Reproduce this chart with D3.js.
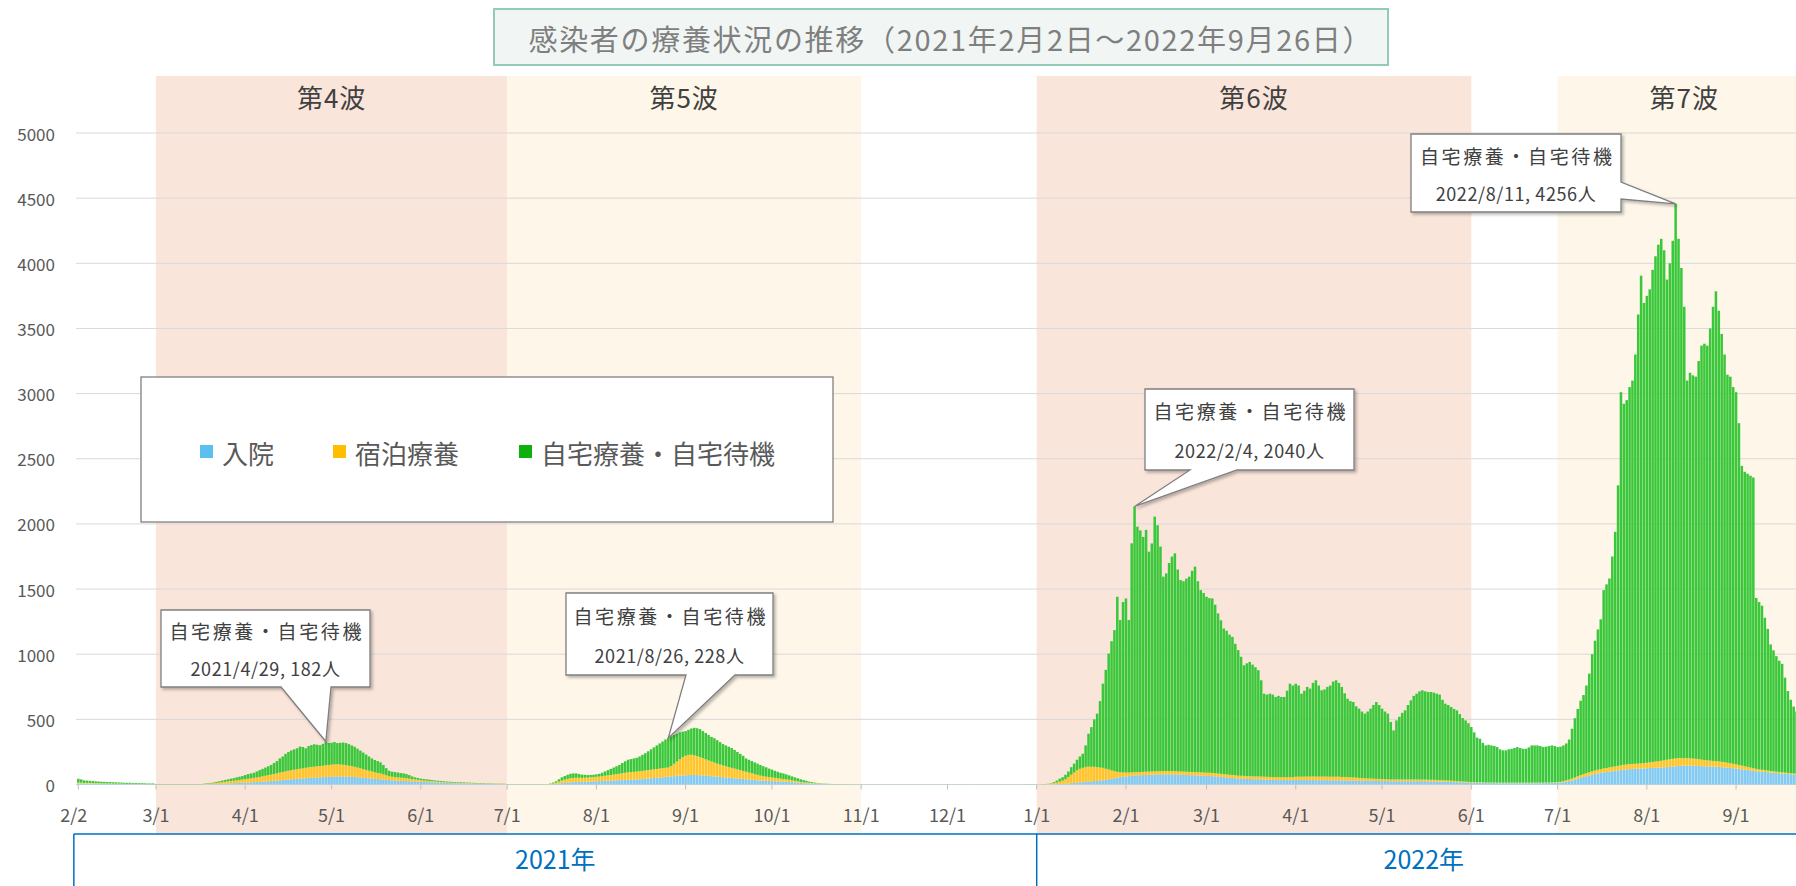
<!DOCTYPE html>
<html><head><meta charset="utf-8">
<script src="https://cdn.jsdelivr.net/npm/d3@7"></script>
<style>
body{margin:0;background:#fff;overflow:hidden;}
svg{display:block;}
text{font-family:"Noto Sans CJK JP","Noto Sans",sans-serif;}
</style>
</head><body>
<svg id="chart" width="1796" height="886"></svg>
<script>
// ---------------- DATA ----------------
const startDate = "2021-02-02";
const endDate = "2022-09-26";
const seriesNames = ["入院", "宿泊療養", "自宅療養・自宅待機"];

// 入院 (daily, 2021-02-02 .. 2022-09-26), one row per month
const hospital = [
  8,8,7,7,7,6,6,6,5,5,5,5,4,4,4,4,3,3,3,3,3,3,2,2,2,2,2,
  1,1,1,1,1,1,1,1,1,1,1,1,1,1,1,1,1,2,2,3,3,4,5,6,7,8,9,10,11,12,13,
  14,15,16,18,19,20,22,23,25,26,28,30,32,34,36,38,40,42,43,45,46,48,50,51,52,54,55,56,58,59,
  60,61,62,62,62,61,60,59,58,56,54,52,50,48,46,44,42,40,38,36,34,32,30,29,28,27,26,25,24,23,22,
  21,20,19,18,17,16,15,14,13,12,11,10,10,9,9,8,8,7,7,6,6,5,5,5,4,4,4,3,3,3,
  1,1,1,1,1,1,1,1,1,1,1,1,1,1,1,2,3,5,8,11,13,15,17,18,19,20,20,21,22,23,24,
  25,26,27,28,29,30,31,32,33,34,35,36,37,38,39,40,42,44,46,48,50,52,54,56,58,60,62,64,66,68,70,
  71,72,73,73,72,71,70,68,66,64,62,60,58,56,54,52,50,48,46,44,42,40,38,36,34,32,30,29,28,27,
  26,25,24,23,22,21,20,18,16,14,12,10,9,8,7,6,5,4,3,3,2,2,2,1,1,1,1,1,1,1,1,
  0,0,0,0,0,0,0,0,0,0,0,0,0,0,0,0,0,0,0,0,0,0,0,0,0,0,0,0,0,0,
  0,0,0,0,0,0,0,0,0,0,0,0,0,0,0,0,0,0,0,0,0,0,0,0,0,0,0,0,1,1,1,
  1,1,1,1,1,2,2,3,4,5,6,8,10,12,14,16,18,20,22,24,26,28,30,33,36,40,44,48,52,56,60,
  62,64,66,68,70,71,72,73,74,75,76,77,78,78,78,78,78,77,76,75,74,73,72,71,70,69,68,67,
  66,65,64,62,60,58,56,54,52,50,48,46,45,44,43,42,41,40,40,39,38,37,36,35,34,34,34,34,34,34,34,
  34,34,34,34,34,34,34,33,33,33,33,33,32,32,32,32,31,31,31,30,30,30,29,29,29,28,28,28,27,27,
  26,26,26,25,25,25,25,25,25,25,25,25,25,25,25,25,24,24,24,23,23,22,22,21,20,19,18,17,16,15,14,
  13,13,12,12,12,11,11,11,11,10,10,10,10,10,10,10,10,10,10,10,10,10,10,10,10,11,11,11,12,12,
  13,15,18,22,26,32,38,45,52,58,64,70,75,80,85,90,93,96,99,102,105,108,111,114,116,118,120,121,122,123,124,
  125,126,127,128,129,130,132,134,136,138,140,142,143,144,145,145,144,143,142,141,140,139,138,137,136,135,133,131,129,127,125,
  123,120,117,114,111,108,105,102,100,98,96,94,92,90,88,86,84,82,80,78,76,74,72,70,68,66
];

// 宿泊療養
const hotel = [
  6,6,5,5,5,5,4,4,4,4,3,3,3,3,3,2,2,2,2,2,2,2,2,1,1,1,1,
  1,1,1,1,1,1,1,1,1,1,1,1,1,1,1,1,1,3,4,5,6,8,10,12,14,16,18,19,21,23,25,
  27,29,31,33,35,38,41,44,47,50,53,56,59,62,65,68,70,72,74,76,78,80,82,84,85,86,87,88,90,91,
  92,93,93,92,90,88,85,82,78,74,70,66,62,58,54,50,47,44,40,35,30,28,27,26,25,24,22,20,18,16,14,
  12,11,10,9,8,7,6,6,5,5,4,4,4,4,3,3,3,3,3,2,2,2,2,2,2,2,2,2,2,1,
  1,1,1,1,1,1,1,1,1,1,1,1,1,1,1,3,5,9,14,20,24,28,31,32,33,32,31,31,31,32,33,
  34,35,37,39,41,43,45,47,49,52,55,57,58,59,60,61,62,63,64,65,66,67,68,69,70,70,80,95,110,125,140,
  150,155,155,150,145,140,132,125,118,112,106,100,95,90,86,82,78,74,70,66,62,58,54,50,46,42,38,35,32,30,
  28,26,24,22,20,18,16,14,12,10,8,7,6,5,4,3,3,2,2,1,1,1,1,1,1,1,0,0,0,0,0,
  0,0,0,0,0,0,0,0,0,0,0,0,0,0,0,0,0,0,0,0,0,0,0,0,0,0,0,0,0,0,
  0,0,0,0,0,0,0,0,0,0,0,0,0,0,0,0,0,0,0,0,0,0,0,0,0,0,0,0,0,0,0,
  1,1,1,2,3,5,8,12,18,25,35,50,65,80,95,105,110,115,115,112,110,105,100,95,85,75,65,55,45,38,32,
  30,28,27,26,25,25,25,25,25,25,25,25,25,25,25,25,25,25,25,25,25,25,25,25,25,25,25,25,
  25,25,25,25,24,24,24,24,23,23,23,22,22,22,22,22,22,22,22,22,22,22,22,22,22,22,22,22,22,22,22,
  26,26,26,27,27,27,28,28,28,28,28,28,28,28,28,28,27,27,26,25,24,23,22,21,20,19,18,17,16,16,
  15,15,14,14,14,14,14,14,14,14,14,14,14,13,13,13,13,12,12,12,11,11,10,10,9,9,8,8,7,7,6,
  6,5,5,5,5,4,4,4,4,4,4,4,4,4,4,4,4,4,4,4,4,4,4,4,4,4,4,4,4,5,
  5,6,8,10,12,14,16,18,20,22,24,25,26,27,28,29,30,31,32,33,34,35,36,37,38,38,38,38,38,39,40,
  42,44,46,48,50,52,54,56,58,59,60,60,59,58,57,56,55,54,52,50,48,46,45,44,43,42,41,40,38,36,34,
  32,30,28,26,24,22,20,18,16,15,14,13,12,11,10,10,9,9,9,8,8,8,7,7,7,7
];

// 自宅療養・自宅待機
const home = [
  30,25,20,18,16,15,14,13,12,12,11,11,10,10,9,9,8,8,8,7,7,6,6,6,5,5,5,
  2,2,2,2,2,2,2,2,2,2,2,2,2,2,2,2,2,3,4,4,6,8,10,12,14,16,18,19,23,25,27,
  32,36,38,39,46,52,57,63,68,74,84,94,109,119,134,144,152,156,161,170,164,150,163,168,172,165,160,168,182,168,
  168,172,163,166,170,169,165,159,154,145,136,127,118,109,100,94,91,86,72,54,41,38,38,37,35,34,32,27,20,16,14,
  12,11,11,10,9,8,8,7,7,6,6,6,5,5,5,5,4,4,3,4,3,3,3,2,3,2,2,2,2,2,
  1,1,1,1,1,1,1,1,1,1,1,1,1,1,1,3,7,11,18,24,28,32,34,35,33,28,25,22,19,18,18,
  19,21,26,33,40,47,54,61,68,79,88,97,100,103,106,114,124,133,145,157,169,181,193,205,217,228,228,221,214,207,195,
  189,193,202,212,215,214,208,202,196,189,187,180,172,164,160,156,152,143,134,125,116,102,98,94,90,86,82,76,72,65,
  61,54,50,45,43,39,34,30,27,24,20,17,13,9,7,5,3,3,2,2,2,1,1,1,1,1,1,1,1,1,1,
  1,1,1,1,1,1,1,1,1,1,1,1,1,1,1,1,1,1,1,1,1,1,1,1,1,1,1,1,1,1,
  1,1,1,1,1,1,1,1,1,1,1,1,1,1,1,1,1,1,1,1,1,1,1,1,1,1,1,1,1,1,1,
  0,0,1,1,2,3,8,15,23,26,34,42,58,68,81,94,108,165,253,304,364,411,510,646,759,890,991,1082,1344,1168,1308,
  1336,1170,1758,2040,1884,1854,1803,1856,1688,1750,1955,1888,1723,1492,1517,1597,1646,1672,1549,1469,1461,1482,1498,1544,1577,1466,1399,1378,
  1350,1340,1339,1293,1229,1178,1117,1102,1075,1060,1009,963,913,849,865,877,857,838,815,739,637,631,639,633,616,624,616,616,664,718,704,
  714,700,637,659,688,675,718,739,699,662,669,688,700,730,740,720,691,642,602,585,579,547,531,510,495,513,536,565,590,567,
  541,519,504,441,376,453,481,511,530,571,607,641,658,677,685,677,673,674,669,662,656,617,588,579,566,552,543,515,487,470,450,
  422,382,343,334,303,285,290,285,280,273,256,248,248,256,260,266,273,266,260,260,271,286,286,286,281,272,275,280,284,278,
  269,269,274,283,307,382,455,517,571,607,672,756,899,997,1077,1149,1369,1409,1450,1615,1800,2153,2864,2771,2796,2894,2942,3141,3447,3743,3532,
  3583,3630,3777,3878,3964,4006,3914,3685,3806,3976,4256,3986,3762,3464,2898,2959,2941,2933,3056,3177,3195,3183,3317,3485,3606,3459,3284,3129,2978,2967,2891,
  2856,2623,2300,2260,2250,2240,2231,1312,1284,1259,1170,1087,971,929,887,854,833,729,628,564,514,478,441,413,385,367
];

const yTickValues = [0, 500, 1000, 1500, 2000, 2500, 3000, 3500, 4000, 4500, 5000];
const xTickDates = ["2021-02-02","2021-03-01","2021-04-01","2021-05-01","2021-06-01","2021-07-01","2021-08-01","2021-09-01","2021-10-01","2021-11-01","2021-12-01","2022-01-01","2022-02-01","2022-03-01","2022-04-01","2022-05-01","2022-06-01","2022-07-01","2022-08-01","2022-09-01"];
const xTickLabels = ["2/2","3/1","4/1","5/1","6/1","7/1","8/1","9/1","10/1","11/1","12/1","1/1","2/1","3/1","4/1","5/1","6/1","7/1","8/1","9/1"];

const waveLabels = ["第4波", "第5波", "第6波", "第7波"];
const waveStarts = ["2021-03-01", "2021-07-01", "2022-01-01", "2022-07-01"];
const waveEnds   = ["2021-07-01", "2021-11-01", "2022-06-01", "2022-09-27"];

const yearLabels = ["2021年", "2022年"];
const yearStarts = ["2021-02-02", "2022-01-01"];
const yearEnds   = ["2022-01-01", "2022-09-27"];

const calloutDates = ["2021-04-29", "2021-08-26", "2022-02-04", "2022-08-11"];
const calloutTitle = "自宅療養・自宅待機";

const titleText = "感染者の療養状況の推移（2021年2月2日～2022年9月26日）";

// ---------------- STYLE / LAYOUT ----------------
const barColors = ["#80caf4", "#ffc428", "#3ac83a"];
const legendColors = ["#5bc0f0", "#ffbf00", "#0eb00e"];
const waveColors = ["#fae5da", "#fef6e8", "#fae5da", "#fef6e8"];
const calloutBoxes = [
  {box:[161,610,370,687], side:"bottom", base:[281,331]},
  {box:[566,593,773,675], side:"bottom", base:[686,735]},
  {box:[1145,389,1354,470], side:"bottom", base:[1190,1237]},
  {box:[1411,134,1621,212], side:"right", base:[182,199]}
];

const W = 1796, H = 886;
const svg = d3.select("#chart");
const parse = d3.utcParse("%Y-%m-%d");
const d0 = parse(startDate), d1 = parse(endDate);
const days = d3.utcDay.range(d0, d3.utcDay.offset(d1, 1));
const fmt = d3.utcFormat("%Y-%m-%d");
const N = days.length;
if (hospital.length !== N || hotel.length !== N || home.length !== N)
  console.error("length mismatch", N, hospital.length, hotel.length, home.length);

const step = 2.878, left = 76.9;
const xb = d3.scaleBand().domain(days.map(fmt)).range([left, left + N * step])
  .paddingInner(0.12).paddingOuter(0.06);
const xt = d3.scaleUtc().domain([d0, d3.utcDay.offset(d0, N)])
  .range([left + step * 0.5, left + step * (N + 0.5)]);
const y = d3.scaleLinear().domain([0, 5000]).range([784.5, 133]);

const rows = days.map((d, i) => ({date: fmt(d), hospital: hospital[i], hotel: hotel[i], home: home[i]}));
const keys = ["hospital", "hotel", "home"];
const stacked = d3.stack().keys(keys)(rows);

const defs = svg.append("defs");
const f = defs.append("filter").attr("id", "shadow").attr("x", "-10%").attr("y", "-10%").attr("width", "130%").attr("height", "140%");
f.append("feDropShadow").attr("dx", 2).attr("dy", 2).attr("stdDeviation", 1.5).attr("flood-color", "#000").attr("flood-opacity", 0.28);

// wave bands
const bandTop = 76, bandBottom = 834;
waveLabels.forEach((lab, i) => {
  const xa = xt(parse(waveStarts[i])), xe = xt(parse(waveEnds[i]));
  svg.append("rect").attr("x", xa).attr("y", bandTop).attr("width", xe - xa).attr("height", bandBottom - bandTop)
    .attr("fill", waveColors[i]);
  svg.append("text").attr("x", (xa + xe) / 2).attr("y", 96).attr("text-anchor", "middle")
    .attr("dominant-baseline", "central").attr("font-size", 26).attr("fill", "#404040")
    .attr("letter-spacing", 1).text(lab);
});

// gridlines + y labels
const g = svg.append("g");
yTickValues.forEach(t => {
  g.append("line").attr("x1", 76).attr("x2", W).attr("y1", y(t)).attr("y2", y(t))
    .attr("stroke", "#d9d9d9").attr("stroke-width", 1);
  g.append("text").attr("x", 55).attr("y", y(t)).attr("text-anchor", "end").attr("dominant-baseline", "central")
    .attr("font-size", 17).attr("fill", "#595959").text(t);
});

// bars
svg.append("g").selectAll("g").data(stacked).join("g")
  .attr("fill", (d, i) => barColors[i])
  .selectAll("rect").data(d => d).join("rect")
  .attr("x", d => xb(d.data.date)).attr("width", xb.bandwidth())
  .attr("y", d => y(d[1])).attr("height", d => Math.max(0, y(d[0]) - y(d[1])));

// x tick marks and labels
xTickDates.forEach((ds, i) => {
  const xx = xt(parse(ds));
  svg.append("line").attr("x1", xx).attr("x2", xx).attr("y1", y(0)).attr("y2", y(0) + 5)
    .attr("stroke", "#bfbfbf");
  svg.append("text").attr("x", i === 0 ? xx - 4.5 : xx).attr("y", 822).attr("text-anchor", "middle")
    .attr("font-size", 18).attr("fill", "#595959").text(xTickLabels[i]);
});

// year box
const yb = svg.append("g").attr("stroke", "#0070c0").attr("stroke-width", 1.5);
yb.append("line").attr("x1", xt(parse(yearStarts[0])) - 4.5).attr("x2", W).attr("y1", 834).attr("y2", 834);
yearStarts.forEach((ds, i) => {
  const xa = i === 0 ? xt(parse(ds)) - 4.5 : xt(parse(ds));
  yb.append("line").attr("x1", xa).attr("x2", xa).attr("y1", 834).attr("y2", H);
});
yearLabels.forEach((lab, i) => {
  const xa = i === 0 ? xt(parse(yearStarts[i])) - 4.5 : xt(parse(yearStarts[i]));
  const xe = xt(parse(yearEnds[i]));
  svg.append("text").attr("x", (xa + xe) / 2).attr("y", 869).attr("text-anchor", "middle")
    .attr("font-size", 25).attr("fill", "#0070c0").text(lab);
});

// legend
const lg = svg.append("g");
lg.append("rect").attr("x", 141).attr("y", 377).attr("width", 692).attr("height", 145)
  .attr("fill", "#fff").attr("stroke", "#808080").attr("stroke-width", 1.3);
const legX = [200, 333, 519];
seriesNames.forEach((nm, i) => {
  lg.append("rect").attr("x", legX[i]).attr("y", 445).attr("width", 13).attr("height", 13).attr("fill", legendColors[i]);
  lg.append("text").attr("x", legX[i] + 22).attr("y", 452).attr("dominant-baseline", "central")
    .attr("font-size", 26).attr("fill", "#595959").text(nm);
});

// callouts
calloutDates.forEach((ds, i) => {
  const idx = d3.utcDay.count(d0, parse(ds));
  const total = hospital[idx] + hotel[idx] + home[idx];
  const tx = xt(parse(ds)), ty = y(total);
  const c = calloutBoxes[i];
  const [x0, y0, x1, y1] = c.box;
  let pts;
  if (c.side === "bottom") {
    pts = [[x0,y0],[x1,y0],[x1,y1],[c.base[1],y1],[tx,ty],[c.base[0],y1],[x0,y1]];
  } else {
    pts = [[x0,y0],[x1,y0],[x1,c.base[0]],[tx,ty],[x1,c.base[1]],[x1,y1],[x0,y1]];
  }
  svg.append("path").attr("d", "M" + pts.map(p => p.join(",")).join("L") + "Z")
    .attr("fill", "#fff").attr("stroke", "#7f7f7f").attr("stroke-width", 1.3)
    .attr("filter", "url(#shadow)");
  const cx = (x0 + x1) / 2, h = y1 - y0;
  const dt = parse(ds);
  const line2 = `${dt.getUTCFullYear()}/${dt.getUTCMonth() + 1}/${dt.getUTCDate()}, ${home[idx]}人`;
  svg.append("text").attr("x", cx).attr("y", y0 + h * 0.27).attr("text-anchor", "middle")
    .attr("dominant-baseline", "central").attr("font-size", 19).attr("fill", "#404040")
    .attr("textLength", 192).attr("lengthAdjust", "spacing").text(calloutTitle);
  svg.append("text").attr("x", cx).attr("y", y0 + h * 0.75).attr("text-anchor", "middle")
    .attr("dominant-baseline", "central").attr("font-size", 18).attr("fill", "#404040")
    .attr("letter-spacing", 0.6).text(line2);
});

// title
svg.append("rect").attr("x", 494).attr("y", 9).attr("width", 894).attr("height", 56)
  .attr("fill", "#f1f6f4").attr("stroke", "#93cbb8").attr("stroke-width", 2);
svg.append("text").attr("x", 950).attr("y", 38).attr("text-anchor", "middle").attr("dominant-baseline", "central")
  .attr("font-size", 29).attr("fill", "#7f7f7f").attr("textLength", 843).attr("lengthAdjust", "spacing")
  .text(titleText);
</script>
</body></html>
